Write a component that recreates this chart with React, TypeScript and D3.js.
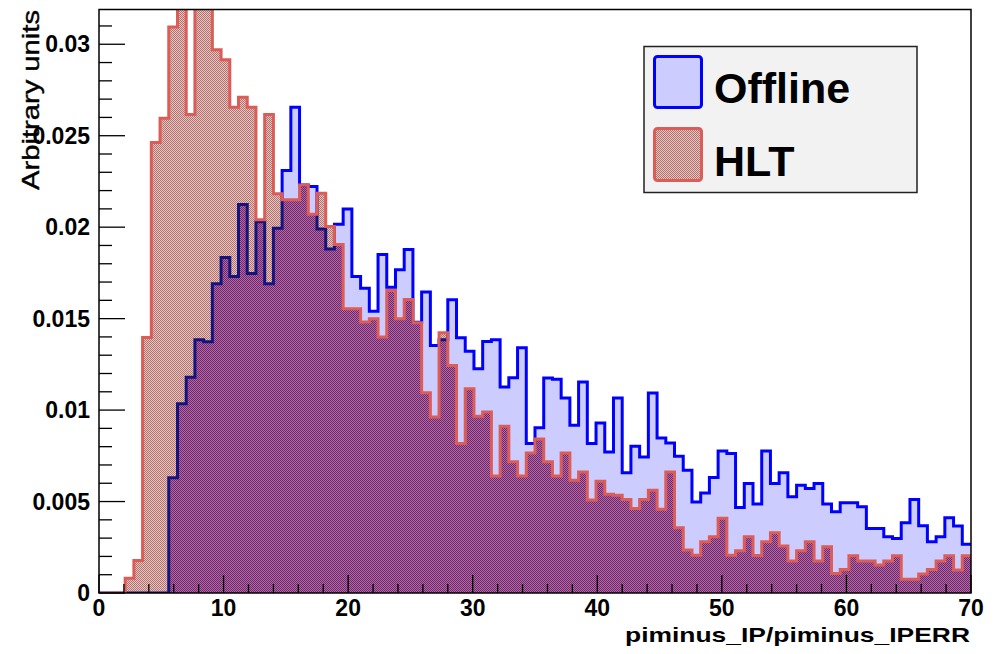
import React from "react";
import * as d3 from "d3";

// 100 bins of width 0.7 over [0, 70]
const binEdges = d3.range(0, 101).map((i) => i * 0.7);

const offline = [
  0, 0, 0, 0, 0, 0, 0, 0, 0.0063, 0.01035,
  0.0118, 0.01385, 0.01373, 0.0169, 0.01834, 0.0173, 0.02124, 0.01747, 0.0203, 0.0169,
  0.01994, 0.0231, 0.02656, 0.0223, 0.02222, 0.0199, 0.01881, 0.02016, 0.021, 0.0173,
  0.01666, 0.01541, 0.0185, 0.01672, 0.01767, 0.01878, 0.0148, 0.01646, 0.01353, 0.01385,
  0.01603, 0.01395, 0.01322, 0.01226, 0.01375, 0.01385, 0.01126, 0.01177, 0.01341, 0.00817,
  0.00904, 0.01175, 0.01168, 0.01066, 0.00917, 0.01153, 0.00817, 0.0093, 0.00771, 0.01066,
  0.00657, 0.00802, 0.00744, 0.01093, 0.00848, 0.0082, 0.00748, 0.00671, 0.00498, 0.00547,
  0.00631, 0.00777, 0.00762, 0.00468, 0.00599, 0.00486, 0.00777, 0.00599, 0.00657, 0.00526,
  0.00589, 0.00571, 0.00599, 0.00486, 0.00444, 0.00493, 0.00493, 0.00471, 0.00353, 0.00353,
  0.00307, 0.00298, 0.00384, 0.00511, 0.00367, 0.0028, 0.00307, 0.00411, 0.00366, 0.00266,
];

const hlt = [
  0, 0, 0, 0.0008, 0.00178, 0.01397, 0.02463, 0.02595, 0.03095, 0.0332,
  0.02616, 0.0326, 0.0328, 0.0297, 0.02915, 0.02656, 0.0271, 0.02656, 0.0204, 0.02616,
  0.02183, 0.0215, 0.0215, 0.0223, 0.0207, 0.02185, 0.02003, 0.01905, 0.01554, 0.01554,
  0.01481, 0.01499, 0.01399, 0.01654, 0.01499, 0.01605, 0.01478, 0.01095, 0.00962, 0.01423,
  0.01244, 0.00817, 0.01117, 0.00966, 0.0099, 0.00639, 0.00911, 0.00717, 0.00639, 0.00766,
  0.00842, 0.00717, 0.00639, 0.00766, 0.00617, 0.00662, 0.00508, 0.00611, 0.0054, 0.00535,
  0.00511, 0.00462, 0.00511, 0.00562, 0.00458, 0.00662, 0.00357, 0.00235, 0.00207, 0.0028,
  0.00307, 0.00408, 0.00207, 0.00231, 0.00307, 0.00205, 0.0028, 0.00329, 0.00257, 0.00175,
  0.00231, 0.0028, 0.00175, 0.00253, 0.00107, 0.00129, 0.00204, 0.00175, 0.00175, 0.00153,
  0.00175, 0.00204, 0.00075, 0.00075, 0.00104, 0.00129, 0.00175, 0.00204, 0.00126, 0.00204,
];

const xTickLabels = ["0", "10", "20", "30", "40", "50", "60", "70"];
const yTickLabels = ["0", "0.005", "0.01", "0.015", "0.02", "0.025", "0.03"];
const legendNames = ["Offline", "HLT"];

const W = 999;
const H = 654;
const frame = { left: 99, right: 971, top: 9.5, bottom: 593 };

const FONT = "'Liberation Sans', Arial, Helvetica, sans-serif";

const BLUE_FILL = "#ccccff";
const BLUE_LINE = "#0000ff";
const BLUE_UNDER = "#14147e";
const RED_LINE = "#dc5c58";

type Pt = [number, number];

const App = () => {
  const x = d3.scaleLinear().domain([0, 70]).range([frame.left, frame.right]);
  const y = d3.scaleLinear().domain([0, 0.0319]).range([frame.bottom, frame.top]);

  const stepPoints = (vals: number[]): Pt[] => {
    const pts: Pt[] = [];
    vals.forEach((v, i) => {
      pts.push([binEdges[i], v]);
      pts.push([binEdges[i + 1], v]);
    });
    return pts;
  };

  const line = d3
    .line<Pt>()
    .x((d) => x(d[0]))
    .y((d) => y(d[1]));
  const area = d3
    .area<Pt>()
    .x((d) => x(d[0]))
    .y0(y(0))
    .y1((d) => y(d[1]));

  const offPts = stepPoints(offline);
  const hltPts = stepPoints(hlt);
  const overlapPts = stepPoints(offline.map((v, i) => Math.min(v, hlt[i])));

  const xMajor = d3.range(0, 71, 10);
  const xMinor = d3.range(0, 71, 2).filter((v) => v % 10 !== 0);
  const yMajor = d3.range(0, 7).map((i) => i * 0.005);
  const yMinor = d3.range(0, 32).map((i) => i * 0.001).filter((_, i) => i % 5 !== 0);

  return (
    <svg
      width={W}
      height={H}
      style={{ position: "absolute", left: 0, top: 0, background: "#fff" }}
    >
      <defs>
        <clipPath id="frameClip">
          <rect
            x={frame.left}
            y={frame.top}
            width={frame.right - frame.left}
            height={frame.bottom - frame.top}
          />
        </clipPath>
        <clipPath id="hltClip">
          <path d={area(hltPts) || ""} />
        </clipPath>
        {/* stippled HLT fill over white */}
        <pattern id="hltPat" x={0} y={0} width={2} height={2} patternUnits="userSpaceOnUse">
          <rect x={0} y={0} width={2} height={2} fill="#e4c6c2" />
          <rect x={0} y={0} width={1} height={1} fill="#b4706c" />
          <rect x={1} y={1} width={1} height={1} fill="#b4706c" />
        </pattern>
        {/* stippled HLT fill over the Offline fill */}
        <pattern id="mixPat" x={0} y={0} width={2} height={2} patternUnits="userSpaceOnUse">
          <rect x={0} y={0} width={2} height={2} fill="#b06aa4" />
          <rect x={0} y={0} width={1} height={1} fill="#70266a" />
          <rect x={1} y={1} width={1} height={1} fill="#70266a" />
        </pattern>
      </defs>

      <rect x={0} y={0} width={W} height={H} fill="#fff" />

      <g clipPath="url(#frameClip)">
        <path d={area(offPts) || ""} fill={BLUE_FILL} />
        <path d={line(offPts) || ""} fill="none" stroke={BLUE_LINE} strokeWidth={3} />
        <path d={area(hltPts) || ""} fill="url(#hltPat)" />
        <path d={area(overlapPts) || ""} fill="url(#mixPat)" />
        <g clipPath="url(#hltClip)">
          <path d={line(offPts) || ""} fill="none" stroke={BLUE_UNDER} strokeWidth={3} />
        </g>
        <path d={line(hltPts) || ""} fill="none" stroke={RED_LINE} strokeWidth={3} />
      </g>

      {/* frame */}
      <rect
        x={frame.left}
        y={frame.top}
        width={frame.right - frame.left}
        height={frame.bottom - frame.top}
        fill="none"
        stroke="#000"
        strokeWidth={1.5}
      />

      {/* x ticks */}
      {xMajor.map((v) => (
        <line key={"xM" + v} x1={x(v)} x2={x(v)} y1={frame.bottom} y2={frame.bottom - 18} stroke="#000" strokeWidth={1.3} />
      ))}
      {xMinor.map((v) => (
        <line key={"xm" + v} x1={x(v)} x2={x(v)} y1={frame.bottom} y2={frame.bottom - 9} stroke="#000" strokeWidth={1.3} />
      ))}
      {xMajor.map((v, i) => (
        <text
          key={"xl" + v}
          x={x(v)}
          y={616}
          textAnchor="middle"
          fontFamily={FONT}
          fontWeight="bold"
          fontSize={23}
        >
          {xTickLabels[i]}
        </text>
      ))}

      {/* y ticks */}
      {yMajor.map((v) => (
        <line key={"yM" + v} x1={frame.left} x2={frame.left + 26} y1={y(v)} y2={y(v)} stroke="#000" strokeWidth={1.3} />
      ))}
      {yMinor.map((v) => (
        <line key={"ym" + v} x1={frame.left} x2={frame.left + 13} y1={y(v)} y2={y(v)} stroke="#000" strokeWidth={1.3} />
      ))}
      {yMajor.map((v, i) => (
        <text
          key={"yl" + i}
          x={90}
          y={y(v) + 8}
          textAnchor="end"
          fontFamily={FONT}
          fontWeight="bold"
          fontSize={23}
        >
          {yTickLabels[i]}
        </text>
      ))}

      {/* axis titles */}
      <text
        x={970}
        y={642}
        textAnchor="end"
        fontFamily={FONT}
        fontWeight="bold"
        fontSize={21}
        textLength={345}
        lengthAdjust="spacingAndGlyphs"
      >
        piminus_IP/piminus_IPERR
      </text>
      <text
        transform="translate(39,10) rotate(-90)"
        textAnchor="end"
        fontFamily={FONT}
        fontSize={24}
        textLength={180}
        lengthAdjust="spacingAndGlyphs"
        stroke="#000"
        strokeWidth={0.4}
      >
        Arbitrary units
      </text>

      {/* legend */}
      <rect x={644} y={46.5} width={273} height={146} fill="#f2f2f2" stroke="#222" strokeWidth={1.5} />
      <rect x={654.5} y={56.5} width={47} height={51} rx={3} fill={BLUE_FILL} stroke={BLUE_LINE} strokeWidth={3} />
      <rect x={654.5} y={128.5} width={47} height={52} rx={3} fill="url(#hltPat)" stroke={RED_LINE} strokeWidth={3} />
      <text x={714} y={103} fontFamily={FONT} fontWeight="bold" fontSize={43}>
        {legendNames[0]}
      </text>
      <text x={714} y={176} fontFamily={FONT} fontWeight="bold" fontSize={43}>
        {legendNames[1]}
      </text>
    </svg>
  );
};

export default App;
